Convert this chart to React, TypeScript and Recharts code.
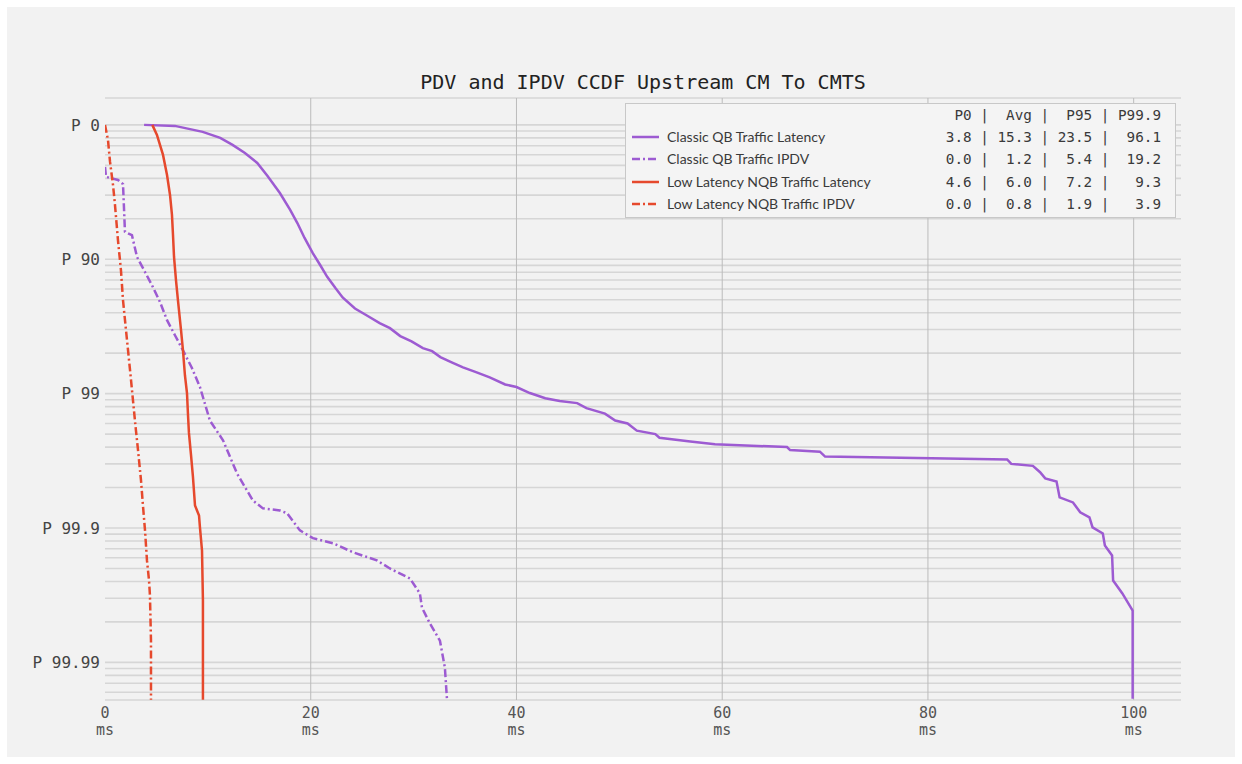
import { LineChart, Line, XAxis, YAxis, CartesianGrid, Legend } from "recharts";

const chartTitle = "PDV and IPDV CCDF Upstream CM To CMTS";

// legend / stats table
const seriesNames = [
  "Classic QB Traffic Latency",
  "Classic QB Traffic IPDV",
  "Low Latency NQB Traffic Latency",
  "Low Latency NQB Traffic IPDV",
];
const statHeaders = ["P0", "Avg", "P95", "P99.9"];
const statP0 = [3.8, 0.0, 4.6, 0.0];
const statAvg = [15.3, 1.2, 6.0, 0.8];
const statP95 = [23.5, 5.4, 7.2, 1.9];
const statP999 = [96.1, 19.2, 9.3, 3.9];

// axes
const yTickPct = [0, 90, 99, 99.9, 99.99];
const yTickLabels = ["P 0", "P 90", "P 99", "P 99.9", "P 99.99"];
const xTicks = [0, 20, 40, 60, 80, 100];
const xUnit = "ms";

// Classic QB latency (ms, percentile)
const classicLatMs = [
  3.8, 6.8, 9.5, 11.2, 12.4, 13.6, 14.8, 15.8, 17.0, 18.0, 18.7, 19.4, 20.2, 20.9, 21.6, 22.4, 23.1,
  24.3, 25.5, 26.7, 27.7, 28.7, 29.8, 30.9, 31.8, 32.6, 33.7, 34.8, 36.0, 37.4, 38.9, 40.0, 41.3,
  42.8, 44.2, 45.9, 46.8, 48.6, 49.6, 50.8, 51.7, 53.5, 53.9, 56.9, 59.3, 66.3, 66.6, 69.5, 70.0,
  87.7, 88.1, 90.2, 90.9, 91.4, 92.5, 92.8, 94.1, 94.8, 95.7, 96.0, 97.0, 97.2, 97.9, 98.0, 98.9,
  99.9, 99.9,
];
const classicLatPct = [
  0, 1.7, 11.3, 20.0, 29.0, 38.2, 47.9, 58.3, 68.9, 76.7, 81.4, 85.6, 88.9, 90.9, 92.6, 93.9, 94.8,
  95.7, 96.2, 96.65, 96.93, 97.32, 97.55, 97.82, 97.93, 98.13, 98.29, 98.43, 98.55, 98.68, 98.83,
  98.88, 98.99, 99.075, 99.12, 99.15, 99.22, 99.29, 99.37, 99.4, 99.47, 99.5, 99.53, 99.56, 99.58,
  99.6, 99.62, 99.63, 99.66, 99.676, 99.7, 99.71, 99.74, 99.766, 99.778, 99.831, 99.845, 99.869,
  99.88, 99.899, 99.909, 99.926, 99.9375, 99.9593, 99.9674, 99.9757, 99.99463,
];

// Classic QB IPDV
const classicIpdvMs = [
  0, 0.1, 1.26, 1.75, 1.94, 2.62, 3.11, 3.89, 4.66, 5.35, 6.03, 6.8, 7.58, 8.45, 9.23, 10.2, 11.47,
  12.83, 14.38, 15.35, 17.0, 17.69, 18.95, 20.21, 22.16, 24.1, 26.43, 27.7, 29.64, 30.61, 30.81,
  31.58, 32.56, 33.04, 33.24,
];
const classicIpdvPct = [
  51.4, 59.0, 61.1, 63.7, 84.0, 84.9, 89.6, 91.96, 93.8, 95.2, 96.48, 97.28, 97.9, 98.45, 98.88,
  99.37, 99.55, 99.745, 99.84, 99.86, 99.865, 99.871, 99.904, 99.916, 99.923, 99.934, 99.9426,
  99.95, 99.9579, 99.9674, 99.9744, 99.9805, 99.9855, 99.99086, 99.99463,
];

// Low Latency NQB latency
const llLatMs = [
  4.6, 5.05, 5.64, 6.03, 6.32, 6.51, 6.61, 6.71, 6.9, 7.09, 7.39, 7.58, 7.77, 7.97, 8.07, 8.16,
  8.36, 8.55, 8.75, 9.14, 9.23, 9.43, 9.52, 9.52,
];
const llLatPct = [
  0, 15.8, 40.2, 57.6, 69.9, 78.6, 84.85, 89.6, 93.0, 95.03, 97.03, 97.9, 98.63, 98.99, 99.31,
  99.49, 99.65, 99.76, 99.853, 99.876, 99.899, 99.932, 99.9712, 99.99472,
];

// Low Latency NQB IPDV
const llIpdvMs = [
  0, 0.29, 0.49, 0.78, 0.97, 1.26, 1.55, 1.75, 2.04, 2.24, 2.53, 2.72, 3.01, 3.21, 3.5, 3.69, 3.89,
  4.08, 4.28, 4.37, 4.47, 4.47,
];
const llIpdvPct = [
  0, 22.7, 47.0, 64.3, 74.6, 86.1, 91.7, 95.03, 97.03, 97.9, 98.74, 99.11, 99.47, 99.62, 99.774,
  99.853, 99.904, 99.9426, 99.9593, 99.9685, 99.9855, 99.99472,
];

const PURPLE = "#9d5bd2";
const RED = "#e6492d";
const DASHDOT = "8 3 2 3";
const MONO = "'DejaVu Sans Mono', monospace";

// depth in "nines": P0 -> 0, P90 -> 1, P99 -> 2 ...
const nines = (pct: number) => -Math.log10(1 - pct / 100);
const toPoints = (ms: number[], pct: number[]) =>
  ms.map((m, i) => ({ ms: m, nines: nines(pct[i]) }));

const Y_MIN = -0.2;
const Y_MAX = 4.28;

// log-scale minor grid: 1-p = 10^-k * m/10
const yGridTicks: number[] = [];
for (let k = 0; k <= 4; k++) {
  for (let m = 10; m >= 2; m--) {
    const v = k - Math.log10(m / 10);
    if (v <= Y_MAX) yGridTicks.push(v);
  }
}
const majorNines = yTickPct.map(nines);

const series = [
  { name: seriesNames[0], data: toPoints(classicLatMs, classicLatPct), color: PURPLE, dash: undefined },
  { name: seriesNames[1], data: toPoints(classicIpdvMs, classicIpdvPct), color: PURPLE, dash: DASHDOT },
  { name: seriesNames[2], data: toPoints(llLatMs, llLatPct), color: RED, dash: undefined },
  { name: seriesNames[3], data: toPoints(llIpdvMs, llIpdvPct), color: RED, dash: DASHDOT },
];

const fmt = (v: number) => v.toFixed(1);
const statLine = (a: string, b: string, c: string, d: string) =>
  `${a.padStart(4)} | ${b.padStart(4)} | ${c.padStart(4)} | ${d.padStart(5)}`;

function StatsLegend() {
  const rowTops = [33, 55, 78, 100];
  return (
    <div
      style={{
        width: 551,
        height: 115,
        boxSizing: "border-box",
        border: "1px solid #c8c8c8",
        background: "#f4f4f4",
        position: "relative",
        color: "#3a3a3a",
      }}
    >
      <div
        style={{
          position: "absolute",
          right: 14,
          top: 1,
          lineHeight: "20px",
          fontFamily: MONO,
          fontSize: 14.3,
          whiteSpace: "pre",
        }}
      >
        {statLine(statHeaders[0], statHeaders[1], statHeaders[2], statHeaders[3])}
      </div>
      {series.map((s, i) => (
        <div key={s.name} style={{ position: "absolute", left: 0, right: 0, top: rowTops[i] - 10, height: 20 }}>
          <svg width={30} height={20} style={{ position: "absolute", left: 5, top: 0 }}>
            <line x1={1} y1={10} x2={28} y2={10} stroke={s.color} strokeWidth={2.5} strokeDasharray={s.dash} />
          </svg>
          <span
            style={{
              position: "absolute",
              left: 41,
              top: 0,
              lineHeight: "20px",
              fontFamily: "Lato, sans-serif",
              fontSize: 14,
            }}
          >
            {s.name}
          </span>
          <span
            style={{
              position: "absolute",
              right: 14,
              top: 0,
              lineHeight: "20px",
              fontFamily: MONO,
              fontSize: 14.3,
              whiteSpace: "pre",
            }}
          >
            {statLine(fmt(statP0[i]), fmt(statAvg[i]), fmt(statP95[i]), fmt(statP999[i]))}
          </span>
        </div>
      ))}
    </div>
  );
}

function XTick(props: any) {
  const { x, y, payload } = props;
  return (
    <g fill="#555" fontFamily={MONO} fontSize={15}>
      <text x={x} y={y + 18} textAnchor="middle">
        {payload.value}
      </text>
      <text x={x} y={y + 35} textAnchor="middle">
        {xUnit}
      </text>
    </g>
  );
}

const yLabel = (v: number) => {
  const idx = majorNines.findIndex((m) => Math.abs(m - v) < 1e-6);
  return idx >= 0 ? yTickLabels[idx] : "";
};

export default function App() {
  return (
    <div style={{ position: "absolute", left: 0, top: 0, width: 1242, height: 764, background: "#fff" }}>
      <div style={{ position: "absolute", left: 7, top: 7, width: 1228, height: 750, background: "#f2f2f2" }} />
      <div
        style={{
          position: "absolute",
          left: 105,
          top: 70,
          width: 1076,
          textAlign: "center",
          fontFamily: MONO,
          fontSize: 20,
          lineHeight: "24px",
          color: "#222",
        }}
      >
        {chartTitle}
      </div>
      <div style={{ position: "absolute", left: 0, top: 0 }}>
        <LineChart width={1242} height={764} margin={{ top: 98, right: 61, bottom: 24, left: 10 }}>
          <CartesianGrid vertical={false} stroke="#d6d6d6" strokeWidth={1.6} />
          <CartesianGrid horizontal={false} stroke="#bcbcbc" strokeWidth={1} verticalValues={[20, 40, 60, 80, 100]} />
          <XAxis
            dataKey="ms"
            type="number"
            domain={[0, 104.6]}
            ticks={xTicks}
            interval={0}
            allowDataOverflow
            axisLine={false}
            tickLine={false}
            tickSize={0}
            tickMargin={0}
            height={40}
            tick={<XTick />}
          />
          <YAxis
            type="number"
            reversed
            domain={[Y_MIN, Y_MAX]}
            ticks={yGridTicks}
            interval={0}
            allowDataOverflow
            axisLine={false}
            tickLine={false}
            tickSize={0}
            tickMargin={5}
            width={95}
            tickFormatter={yLabel}
            tick={{ fill: "#444", fontSize: 16, fontFamily: MONO }}
          />
          <Legend
            layout="horizontal"
            verticalAlign="middle"
            align="center"
            wrapperStyle={{ left: 625, top: 103, width: 551, height: 115 }}
            content={() => <StatsLegend />}
          />
          {series.map((s) => (
            <Line
              key={s.name}
              name={s.name}
              data={s.data}
              dataKey="nines"
              type="linear"
              stroke={s.color}
              strokeWidth={2.5}
              strokeDasharray={s.dash}
              dot={false}
              activeDot={false}
              isAnimationActive={false}
            />
          ))}
        </LineChart>
      </div>
    </div>
  );
}
